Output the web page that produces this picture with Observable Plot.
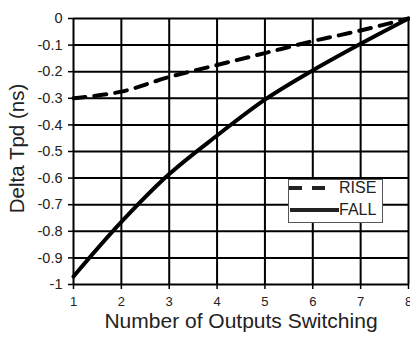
<!DOCTYPE html>
<html>
<head>
<meta charset="utf-8">
<script src="https://cdn.jsdelivr.net/npm/d3@7"></script>
<script src="https://cdn.jsdelivr.net/npm/@observablehq/plot@0.6"></script>
<style>
  html, body { margin: 0; padding: 0; background: #fff; }
  #wrap { position: relative; width: 410px; height: 341px; overflow: hidden; font-family: "Liberation Sans", Arial, sans-serif; }
  #legend { position: absolute; left: 288px; top: 179px; width: 95px; height: 44px; background: #fff; border: 1px solid #555; box-sizing: border-box; font-size: 16px; color: #222; }
  #legend .row { position: absolute; left: 0px; height: 16px; display: flex; align-items: center; }
  #legend svg { display: block; }
</style>
</head>
<body>
<div id="wrap"></div>
<script>
const outputs = [1, 2, 3, 4, 5, 6, 7, 8];
const rise = [-0.30, -0.275, -0.22, -0.175, -0.13, -0.085, -0.045, 0];
const fall = [-0.97, -0.765, -0.585, -0.44, -0.305, -0.195, -0.095, 0];
const seriesNames = ["RISE", "FALL"];
const xTicks = [1, 2, 3, 4, 5, 6, 7, 8];
const yTicks = [0, -0.1, -0.2, -0.3, -0.4, -0.5, -0.6, -0.7, -0.8, -0.9, -1];
const yTickLabels = ["0", "-0.1", "-0.2", "-0.3", "-0.4", "-0.5", "-0.6", "-0.7", "-0.8", "-0.9", "-1"];
const xTitle = "Number of Outputs Switching";
const yTitle = "Delta Tpd (ns)";

const riseData = outputs.map((x, i) => ({x, y: rise[i]}));
const fallData = outputs.map((x, i) => ({x, y: fall[i]}));

const chart = Plot.plot({
  width: 410,
  height: 341,
  marginLeft: 73,
  marginRight: 2,
  marginTop: 18,
  marginBottom: 57,
  style: {fontFamily: "'Liberation Sans', Arial, sans-serif", color: "#222", background: "transparent"},
  x: {domain: [1, 8]},
  y: {domain: [-1, 0]},
  marks: [
    Plot.ruleX(xTicks, {stroke: "#000", strokeWidth: 2}),
    Plot.ruleY(yTicks, {stroke: "#000", strokeWidth: 2}),
    Plot.axisX(xTicks, {tickSize: 5, tickPadding: 7, fontSize: 13, label: null, stroke: "#000", strokeWidth: 1.5}),
    Plot.axisY(yTicks, {tickSize: 5, tickPadding: 6, fontSize: 14.5, label: null, stroke: "#000", strokeWidth: 1.5,
      tickFormat: (d) => yTickLabels[yTicks.indexOf(d)]}),
    Plot.line(fallData, {x: "x", y: "y", stroke: "#000", strokeWidth: 4, curve: "catmull-rom"}),
    Plot.line(riseData, {x: "x", y: "y", stroke: "#000", strokeWidth: 4, strokeDasharray: "12,9", curve: "catmull-rom"}),
    Plot.text([yTitle], {frameAnchor: "left", textAnchor: "middle", rotate: -90, dx: -56, dy: -3, fontSize: 20.5, fill: "#222"}),
    Plot.text([xTitle], {frameAnchor: "bottom", dy: 43, fontSize: 21, fill: "#222"})
  ]
});

const wrap = document.getElementById("wrap");
wrap.appendChild(chart);

const legend = document.createElement("div");
legend.id = "legend";
legend.innerHTML = `
  <div class="row" style="top:0px"><svg width="50" height="14"><line x1="0" x2="36" y1="7" y2="7" stroke="#222" stroke-width="4" stroke-dasharray="13,10"/></svg><span>${seriesNames[0]}</span></div>
  <div class="row" style="top:22px"><svg width="50" height="14"><line x1="1" x2="50" y1="7" y2="7" stroke="#222" stroke-width="4"/></svg><span>${seriesNames[1]}</span></div>`;
wrap.appendChild(legend);
</script>
</body>
</html>
